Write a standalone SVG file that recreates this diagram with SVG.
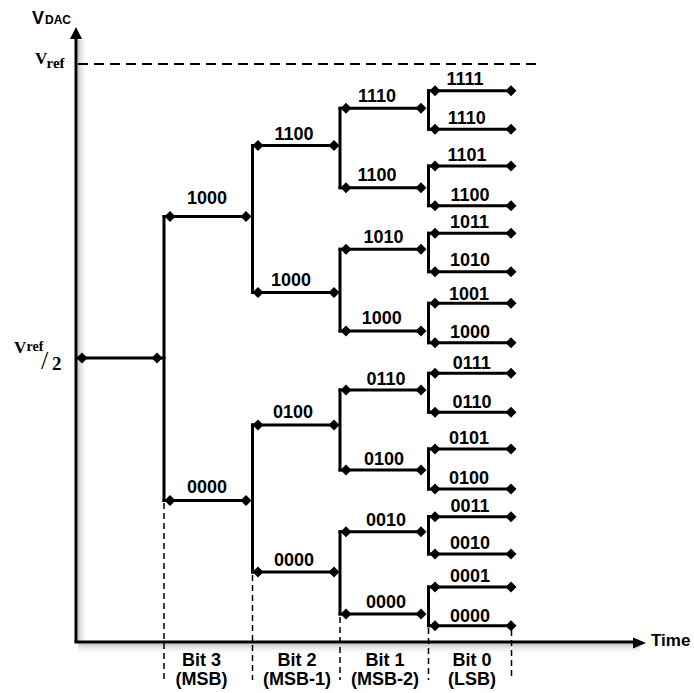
<svg xmlns="http://www.w3.org/2000/svg" xmlns:xlink="http://www.w3.org/1999/xlink" width="694" height="693" viewBox="0 0 694 693">
<style>
.ln{stroke:#000;stroke-width:3;fill:none;stroke-linecap:square}
.ax{stroke:#000;stroke-width:3;fill:none}
.dv{stroke:#000;stroke-width:1.5;stroke-dasharray:6 4;fill:none}
.dh{stroke:#000;stroke-width:2;stroke-dasharray:10 6;fill:none}
.lb{font-family:"Liberation Sans",Arial,sans-serif;font-weight:bold;font-size:18px;text-anchor:middle;fill:#000}
.sf{font-family:"Liberation Serif","Times New Roman",serif;font-weight:bold;fill:#000}
.sn{font-family:"Liberation Sans",Arial,sans-serif;font-weight:bold;fill:#000}
</style>
<defs>
<path id="dm" d="M0,-5.5 L5.5,0 L0,5.5 L-5.5,0Z" fill="#000"/>
<linearGradient id="gy" x1="0" y1="0" x2="1" y2="0"><stop offset="0" stop-color="#c4c4c4"/><stop offset="1" stop-color="#fff" stop-opacity="0"/></linearGradient>
<linearGradient id="gx" x1="0" y1="0" x2="0" y2="1"><stop offset="0" stop-color="#c4c4c4"/><stop offset="1" stop-color="#fff" stop-opacity="0"/></linearGradient>
</defs>
<rect width="694" height="693" fill="#fff"/>

<g id="axes">
<rect x="77.5" y="40" width="11" height="602" fill="url(#gy)"/>
<rect x="78" y="643.5" width="562" height="12" fill="url(#gx)"/>
<line class="ax" x1="76" y1="642" x2="76" y2="38"/>
<path d="M76,27 L82,39 L70,39Z" fill="#000"/>
<line class="ax" x1="74.5" y1="642" x2="634" y2="642"/>
<path d="M646,643 L633,637.5 L633,648.5Z" fill="#000"/>
<text class="sn" x="32" y="24" style="font-size:18px">V</text>
<text class="sn" x="45" y="24" style="font-size:12px">DAC</text>
<text class="sn" x="651" y="646" style="font-size:17px">Time</text>
<text class="sf" x="35" y="64" style="font-size:17px">V</text>
<text class="sf" x="46.5" y="67.5" style="font-size:15px">ref</text>
<line class="dh" x1="78" y1="64" x2="542" y2="64"/>
<text class="sf" x="14" y="353" style="font-size:17px">V</text>
<text class="sf" x="26.5" y="351" style="font-size:14px">ref</text>
<text class="sf" x="41" y="369" style="font-size:26px;font-weight:normal">/</text>
<text class="sf" x="52" y="370" style="font-size:19px">2</text>
</g>

<g id="connectors">
<line class="ln" x1="164" y1="216.5" x2="164" y2="500.5"/>
<line class="ln" x1="252.5" y1="145.5" x2="252.5" y2="292.5"/>
<line class="ln" x1="252.5" y1="425" x2="252.5" y2="572"/>
<line class="ln" x1="340" y1="108.3" x2="340" y2="187.7"/>
<line class="ln" x1="340" y1="249.3" x2="340" y2="331"/>
<line class="ln" x1="340" y1="390" x2="340" y2="470"/>
<line class="ln" x1="340" y1="531.7" x2="340" y2="614"/>
<line class="ln" x1="428.5" y1="90.7" x2="428.5" y2="129.3"/>
<line class="ln" x1="428.5" y1="166" x2="428.5" y2="205.7"/>
<line class="ln" x1="428.5" y1="233.3" x2="428.5" y2="271.7"/>
<line class="ln" x1="428.5" y1="303.3" x2="428.5" y2="342.7"/>
<line class="ln" x1="428.5" y1="373.3" x2="428.5" y2="412.3"/>
<line class="ln" x1="428.5" y1="449" x2="428.5" y2="489"/>
<line class="ln" x1="428.5" y1="516.7" x2="428.5" y2="554"/>
<line class="ln" x1="428.5" y1="587" x2="428.5" y2="625.7"/>
<line class="dv" x1="164" y1="503" x2="164" y2="680"/>
<line class="dv" x1="252.5" y1="575" x2="252.5" y2="680"/>
<line class="dv" x1="340" y1="617" x2="340" y2="680"/>
<line class="dv" x1="428.5" y1="628" x2="428.5" y2="680"/>
<line class="dv" x1="511.5" y1="630" x2="511.5" y2="680"/>
</g>

<g id="n-start"><line class="ln" x1="78" y1="358" x2="164" y2="358"/><use xlink:href="#dm" x="82" y="358"/><use xlink:href="#dm" x="157" y="358"/></g>

<g id="n1-1000"><line class="ln" x1="164" y1="216.5" x2="246" y2="216.5"/><use xlink:href="#dm" x="170" y="216.5"/><use xlink:href="#dm" x="246" y="216.5"/><text class="lb" x="207" y="204">1000</text></g>
<g id="n1-0000"><line class="ln" x1="164" y1="500.5" x2="246" y2="500.5"/><use xlink:href="#dm" x="170" y="500.5"/><use xlink:href="#dm" x="246" y="500.5"/><text class="lb" x="207" y="492.5">0000</text></g>

<g id="n2-1100"><line class="ln" x1="252.5" y1="145.5" x2="334" y2="145.5"/><use xlink:href="#dm" x="258" y="145.5"/><use xlink:href="#dm" x="334" y="145.5"/><text class="lb" x="294" y="140">1100</text></g>
<g id="n2-1000"><line class="ln" x1="252.5" y1="292.5" x2="334" y2="292.5"/><use xlink:href="#dm" x="258" y="292.5"/><use xlink:href="#dm" x="334" y="292.5"/><text class="lb" x="291" y="286">1000</text></g>
<g id="n2-0100"><line class="ln" x1="252.5" y1="425" x2="334" y2="425"/><use xlink:href="#dm" x="258" y="425"/><use xlink:href="#dm" x="334" y="425"/><text class="lb" x="293" y="418">0100</text></g>
<g id="n2-0000"><line class="ln" x1="252.5" y1="572" x2="334" y2="572"/><use xlink:href="#dm" x="258" y="572"/><use xlink:href="#dm" x="334" y="572"/><text class="lb" x="294" y="565.5">0000</text></g>

<g id="n3-1110"><line class="ln" x1="340" y1="108.3" x2="421" y2="108.3"/><use xlink:href="#dm" x="346" y="108.3"/><use xlink:href="#dm" x="421" y="108.3"/><text class="lb" x="377" y="102.3">1110</text></g>
<g id="n3-1100"><line class="ln" x1="340" y1="187.7" x2="421" y2="187.7"/><use xlink:href="#dm" x="346" y="187.7"/><use xlink:href="#dm" x="421" y="187.7"/><text class="lb" x="377" y="180.7">1100</text></g>
<g id="n3-1010"><line class="ln" x1="340" y1="249.3" x2="421" y2="249.3"/><use xlink:href="#dm" x="346" y="249.3"/><use xlink:href="#dm" x="421" y="249.3"/><text class="lb" x="383.5" y="243.3">1010</text></g>
<g id="n3-1000"><line class="ln" x1="340" y1="331" x2="421" y2="331"/><use xlink:href="#dm" x="346" y="331"/><use xlink:href="#dm" x="421" y="331"/><text class="lb" x="381.7" y="324.3">1000</text></g>
<g id="n3-0110"><line class="ln" x1="340" y1="390" x2="421" y2="390"/><use xlink:href="#dm" x="346" y="390"/><use xlink:href="#dm" x="421" y="390"/><text class="lb" x="386" y="385">0110</text></g>
<g id="n3-0100"><line class="ln" x1="340" y1="470" x2="421" y2="470"/><use xlink:href="#dm" x="346" y="470"/><use xlink:href="#dm" x="421" y="470"/><text class="lb" x="384" y="465.3">0100</text></g>
<g id="n3-0010"><line class="ln" x1="340" y1="531.7" x2="421" y2="531.7"/><use xlink:href="#dm" x="346" y="531.7"/><use xlink:href="#dm" x="421" y="531.7"/><text class="lb" x="386" y="526">0010</text></g>
<g id="n3-0000"><line class="ln" x1="340" y1="614" x2="421" y2="614"/><use xlink:href="#dm" x="346" y="614"/><use xlink:href="#dm" x="421" y="614"/><text class="lb" x="386" y="608.3">0000</text></g>

<g id="n4-1111"><line class="ln" x1="428.5" y1="90.7" x2="511" y2="90.7"/><use xlink:href="#dm" x="435" y="90.7"/><use xlink:href="#dm" x="511" y="90.7"/><text class="lb" x="465" y="85">1111</text></g>
<g id="n4-1110"><line class="ln" x1="428.5" y1="129.3" x2="511" y2="129.3"/><use xlink:href="#dm" x="435" y="129.3"/><use xlink:href="#dm" x="511" y="129.3"/><text class="lb" x="466.7" y="124">1110</text></g>
<g id="n4-1101"><line class="ln" x1="428.5" y1="166" x2="511" y2="166"/><use xlink:href="#dm" x="435" y="166"/><use xlink:href="#dm" x="511" y="166"/><text class="lb" x="467" y="161">1101</text></g>
<g id="n4-1100"><line class="ln" x1="428.5" y1="205.7" x2="511" y2="205.7"/><use xlink:href="#dm" x="435" y="205.7"/><use xlink:href="#dm" x="511" y="205.7"/><text class="lb" x="470" y="200.7">1100</text></g>
<g id="n4-1011"><line class="ln" x1="428.5" y1="233.3" x2="511" y2="233.3"/><use xlink:href="#dm" x="435" y="233.3"/><use xlink:href="#dm" x="511" y="233.3"/><text class="lb" x="469.5" y="228.3">1011</text></g>
<g id="n4-1010"><line class="ln" x1="428.5" y1="271.7" x2="511" y2="271.7"/><use xlink:href="#dm" x="435" y="271.7"/><use xlink:href="#dm" x="511" y="271.7"/><text class="lb" x="470" y="266">1010</text></g>
<g id="n4-1001"><line class="ln" x1="428.5" y1="303.3" x2="511" y2="303.3"/><use xlink:href="#dm" x="435" y="303.3"/><use xlink:href="#dm" x="511" y="303.3"/><text class="lb" x="469" y="299.5">1001</text></g>
<g id="n4-1000"><line class="ln" x1="428.5" y1="342.7" x2="511" y2="342.7"/><use xlink:href="#dm" x="435" y="342.7"/><use xlink:href="#dm" x="511" y="342.7"/><text class="lb" x="470" y="338.3">1000</text></g>
<g id="n4-0111"><line class="ln" x1="428.5" y1="373.3" x2="511" y2="373.3"/><use xlink:href="#dm" x="435" y="373.3"/><use xlink:href="#dm" x="511" y="373.3"/><text class="lb" x="471.7" y="368.5">0111</text></g>
<g id="n4-0110"><line class="ln" x1="428.5" y1="412.3" x2="511" y2="412.3"/><use xlink:href="#dm" x="435" y="412.3"/><use xlink:href="#dm" x="511" y="412.3"/><text class="lb" x="472" y="407.7">0110</text></g>
<g id="n4-0101"><line class="ln" x1="428.5" y1="449" x2="511" y2="449"/><use xlink:href="#dm" x="435" y="449"/><use xlink:href="#dm" x="511" y="449"/><text class="lb" x="469" y="444.3">0101</text></g>
<g id="n4-0100"><line class="ln" x1="428.5" y1="489" x2="511" y2="489"/><use xlink:href="#dm" x="435" y="489"/><use xlink:href="#dm" x="511" y="489"/><text class="lb" x="469" y="484">0100</text></g>
<g id="n4-0011"><line class="ln" x1="428.5" y1="516.7" x2="511" y2="516.7"/><use xlink:href="#dm" x="435" y="516.7"/><use xlink:href="#dm" x="511" y="516.7"/><text class="lb" x="470" y="512.3">0011</text></g>
<g id="n4-0010"><line class="ln" x1="428.5" y1="554" x2="511" y2="554"/><use xlink:href="#dm" x="435" y="554"/><use xlink:href="#dm" x="511" y="554"/><text class="lb" x="470" y="549">0010</text></g>
<g id="n4-0001"><line class="ln" x1="428.5" y1="587" x2="511" y2="587"/><use xlink:href="#dm" x="435" y="587"/><use xlink:href="#dm" x="511" y="587"/><text class="lb" x="470" y="582.3">0001</text></g>
<g id="n4-0000"><line class="ln" x1="428.5" y1="625.7" x2="511" y2="625.7"/><use xlink:href="#dm" x="435" y="625.7"/><use xlink:href="#dm" x="511" y="625.7"/><text class="lb" x="470" y="621.7">0000</text></g>

<g id="bit-labels">
<text class="lb" x="201.5" y="666">Bit 3</text><text class="lb" x="201.5" y="685">(MSB)</text>
<text class="lb" x="297" y="666">Bit 2</text><text class="lb" x="297" y="685">(MSB-1)</text>
<text class="lb" x="385" y="666">Bit 1</text><text class="lb" x="385" y="685">(MSB-2)</text>
<text class="lb" x="472" y="666">Bit 0</text><text class="lb" x="472" y="685">(LSB)</text>
</g>
</svg>
